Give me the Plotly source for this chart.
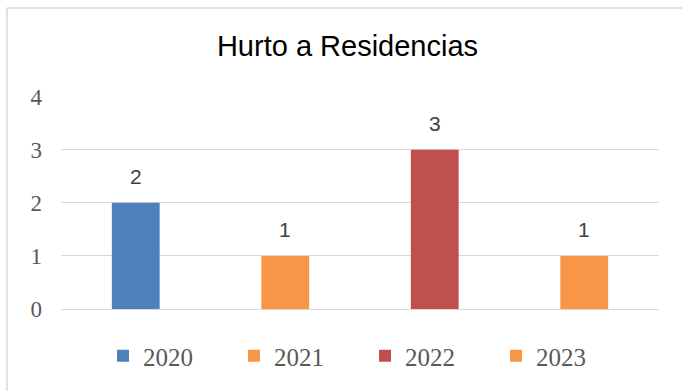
import plotly.graph_objects as go

# Thefts from homes, one bar per year
years = ["2020", "2021", "2022", "2023"]
counts = [2, 1, 3, 1]
colors = ["#4F81BD", "#F79646", "#C0504D", "#F79646"]
y_ticks = [0, 1, 2, 3, 4]

W, H = 682, 391
L, R, T, B = 61, 23, 96, 82

fig = go.Figure()
for yr, n, c in zip(years, counts, colors):
    fig.add_trace(go.Bar(
        x=[yr], y=[n], name=yr, marker_color=c, width=0.32,
        marker_line_width=0, showlegend=True,
    ))

# value labels above each bar (category index positions)
for i, n in enumerate(counts):
    fig.add_annotation(
        x=i, y=n, text=str(n), showarrow=False, yanchor="bottom", yshift=13,
        font=dict(family="Liberation Sans, Arial", size=21, color="#404040"),
    )

# light frame along top and left edges
plot_w, plot_h = W - L - R, H - T - B
def px_x(px):
    return (px - L) / plot_w
def px_y(py):
    return (H - B - py) / plot_h

fig.add_shape(type="line", xref="paper", yref="paper",
              x0=px_x(7), x1=px_x(700), y0=px_y(8), y1=px_y(8),
              line=dict(color="#D9D9D9", width=1.5))
fig.add_shape(type="line", xref="paper", yref="paper",
              x0=px_x(7), x1=px_x(7), y0=px_y(8), y1=px_y(400),
              line=dict(color="#D9D9D9", width=1.5))

fig.update_layout(
    width=W, height=H,
    margin=dict(l=L, r=R, t=T, b=B),
    paper_bgcolor="white", plot_bgcolor="white",
    barmode="overlay",
    title=dict(text="Hurto a Residencias", x=347.5 / W, xref="container",
               xanchor="center", y=1 - 46 / H, yref="container", yanchor="middle",
               font=dict(family="Liberation Sans, Arial", size=29, color="#000000")),
    xaxis=dict(type="category", showticklabels=False, showgrid=False, zeroline=False,
               showline=False, ticks="", categoryorder="array", categoryarray=years,
               range=[-0.5, 3.5]),
    yaxis=dict(range=[0, 4.01], tickvals=y_ticks, showgrid=True, gridcolor="#D9D9D9",
               gridwidth=1.3, zeroline=True, zerolinecolor="#D9D9D9", zerolinewidth=1.3,
               showline=False, ticks="", ticklabelstandoff=18,
               tickfont=dict(family="Liberation Serif, serif", size=23, color="#595959")),
    legend=dict(orientation="h", x=px_x(103), xanchor="left", y=px_y(356),
                yanchor="middle", entrywidth=86, entrywidthmode="pixels",
                font=dict(family="Liberation Serif, serif", size=25, color="#595959"),
                bgcolor="rgba(0,0,0,0)", traceorder="normal"),
    showlegend=True,
)

fig.write_html("out.html")
